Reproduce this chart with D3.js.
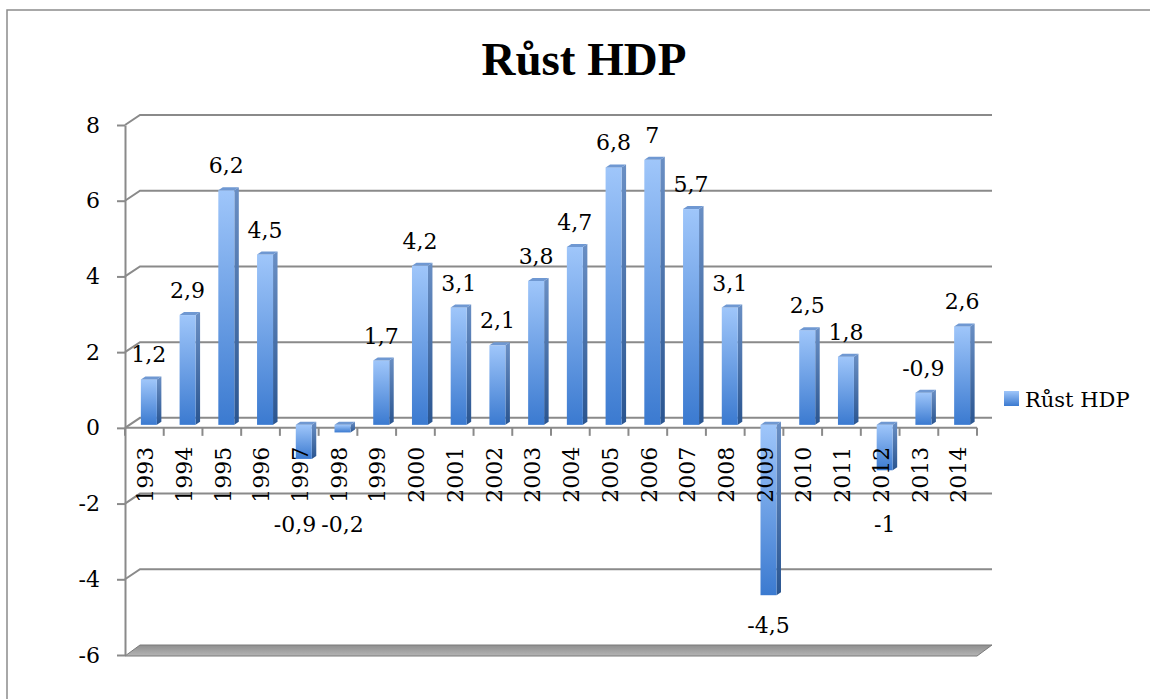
<!DOCTYPE html>
<html>
<head>
<meta charset="utf-8">
<script src="https://cdnjs.cloudflare.com/ajax/libs/d3/7.8.5/d3.min.js"></script>
<style>
  body { margin: 0; background: #fff; }
  svg { display: block; }
</style>
</head>
<body>
<svg id="chart"></svg>
<script>
var years = ["1993", "1994", "1995", "1996", "1997", "1998", "1999", "2000", "2001", "2002", "2003",
    "2004", "2005", "2006", "2007", "2008", "2009", "2010", "2011", "2012", "2013", "2014"];
var growth = [1.2, 2.9, 6.2, 4.5, -0.9, -0.2, 1.7, 4.2, 3.1, 2.1, 3.8,
    4.7, 6.8, 7, 5.7, 3.1, -4.5, 2.5, 1.8, -1.2, 0.85, 2.6];
var labels = ["1,2", "2,9", "6,2", "4,5", "-0,9", "-0,2", "1,7", "4,2", "3,1", "2,1", "3,8",
    "4,7", "6,8", "7", "5,7", "3,1", "-4,5", "2,5", "1,8", "-1", "-0,9", "2,6"];
var yTicks = [-6, -4, -2, 0, 2, 4, 6, 8];
var seriesName = "Růst HDP";
var title = "Růst HDP";

function drawChart() {
    var width = 1150;
    var height = 699;
    var plotL = 125, plotR = 977, plotT = 125, plotB = 655;
    var depthX = 15, depthY = -10;      // back wall offset
    var barX = 4.5, barY = -3;          // bar front face offset / bar depth
    var serif = "'DejaVu Serif', serif";
    var fs = 21;

    var svg = d3.select("#chart")
        .attr("width", width)
        .attr("height", height);

    var defs = svg.append("defs");

    function grad(id, stops) {
        var g = defs.append("linearGradient")
            .attr("id", id)
            .attr("x1", 0).attr("y1", 0).attr("x2", 0).attr("y2", 1);
        stops.forEach(s => g.append("stop").attr("offset", s[0]).attr("stop-color", s[1]));
    }
    grad("front", [[0, "#9fc6fa"], [1, "#3b7ad0"]]);
    grad("side", [[0, "#6a8fc4"], [1, "#2a5590"]]);
    grad("legendGrad", [[0, "#9fc6fa"], [1, "#3b7ad0"]]);
    grad("floorGrad", [[0, "#8f8f8f"], [1, "#b4b4b4"]]);

    var x = d3.scaleBand()
        .domain(years)
        .range([plotL, plotR])
        .paddingInner(0.587)
        .paddingOuter(0.2935);

    var slot = d3.scaleBand()
        .domain(years)
        .range([plotL, plotR]);

    var y = d3.scaleLinear()
        .domain([-6, 8])
        .range([plotB, plotT]);

    // chart area border
    svg.append("path")
        .attr("d", "M7," + height + "V10H" + width)
        .attr("fill", "none")
        .attr("stroke", "#8c8c8c")
        .attr("stroke-width", 1.5);

    svg.append("text")
        .attr("x", 584)
        .attr("y", 75)
        .attr("text-anchor", "middle")
        .attr("font-family", "'Liberation Serif', serif")
        .attr("font-weight", "bold")
        .attr("font-size", 47)
        .text(title);

    // back wall gridlines with the 3d side edge
    svg.append("g")
        .selectAll("path")
        .data(yTicks.filter(d => d > -6))
        .enter()
        .append("path")
        .attr("d", d => "M" + plotL + "," + y(d) + "L" + (plotL + depthX) + "," + (y(d) + depthY) +
            "H" + (plotR + depthX))
        .attr("fill", "none")
        .attr("stroke", "#8a8a8a")
        .attr("stroke-width", 2);

    // floor slab at the bottom
    svg.append("path")
        .attr("d", "M" + plotL + "," + (plotB + 1) + "L" + (plotL + depthX) + "," + (plotB + depthY) +
            "H" + (plotR + depthX) + "L" + plotR + "," + (plotB + 1) + "Z")
        .attr("fill", "url(#floorGrad)")
        .attr("stroke", "#7a7a7a")
        .attr("stroke-width", 1);

    // y axis
    var yAxis = svg.append("g")
        .attr("transform", "translate(" + plotL + ",0)")
        .call(d3.axisLeft(y).tickValues(yTicks).tickSize(8).tickSizeOuter(0).tickPadding(17)
            .tickFormat(d => String(d)));
    yAxis.select(".domain").attr("stroke", "#8a8a8a").attr("stroke-width", 2);
    yAxis.selectAll(".tick line").attr("stroke", "#8a8a8a").attr("stroke-width", 2);
    yAxis.selectAll(".tick text")
        .attr("font-family", serif)
        .attr("font-size", fs + 1)
        .attr("fill", "#000");

    // category axis at zero
    var cat = svg.append("g");
    cat.append("line")
        .attr("x1", plotL).attr("x2", plotR)
        .attr("y1", y(0)).attr("y2", y(0))
        .attr("stroke", "#8a8a8a")
        .attr("stroke-width", 2);
    cat.selectAll(".ctick")
        .data(years.concat(["end"]))
        .enter()
        .append("line")
        .attr("x1", (d, i) => plotL + i * slot.step())
        .attr("x2", (d, i) => plotL + i * slot.step())
        .attr("y1", y(0))
        .attr("y2", y(0) + 8)
        .attr("stroke", "#8a8a8a")
        .attr("stroke-width", 2);

    // bars
    var bars = years.map((d, i) => ({ year: d, value: growth[i], label: labels[i] }));
    var zeroY = y(0) + barY;

    var barG = svg.append("g")
        .selectAll("g")
        .data(bars)
        .enter()
        .append("g");

    function frontX(d) { return x(d.year) + barX; }
    function topY(d) { return Math.min(zeroY, y(d.value) + barY); }
    function botY(d) { return Math.max(zeroY, y(d.value) + barY); }

    barG.append("path")
        .attr("d", d => {
            var x1 = frontX(d) + x.bandwidth();
            return "M" + x1 + "," + topY(d) + "L" + (x1 + barX) + "," + (topY(d) + barY) +
                "L" + (x1 + barX) + "," + (botY(d) + barY) + "L" + x1 + "," + botY(d) + "Z";
        })
        .attr("fill", "url(#side)");

    barG.append("rect")
        .attr("x", frontX)
        .attr("y", topY)
        .attr("width", x.bandwidth())
        .attr("height", d => Math.max(0.5, botY(d) - topY(d)))
        .attr("fill", "url(#front)");

    barG.append("path")
        .attr("d", d => {
            var x0 = frontX(d), t = topY(d);
            return "M" + x0 + "," + t + "L" + (x0 + barX) + "," + (t + barY) +
                "H" + (x0 + x.bandwidth() + barX) + "L" + (x0 + x.bandwidth()) + "," + t + "Z";
        })
        .attr("fill", "#6f98d2");

    // category labels
    svg.append("g")
        .selectAll("text")
        .data(years)
        .enter()
        .append("text")
        .attr("transform", d => "translate(" + (slot(d) + slot.step() / 2 + 1) + "," + (y(0) + 19) + ") rotate(-90)")
        .attr("text-anchor", "end")
        .attr("dy", "0.35em")
        .attr("font-family", serif)
        .attr("font-size", fs + 1)
        .text(d => d);

    // data labels (negative ones sit under the category labels)
    var dl = svg.append("g")
        .selectAll("text")
        .data(bars)
        .enter()
        .append("text")
        .attr("x", d => frontX(d) + x.bandwidth() / 2)
        .attr("y", d => d.value >= 0 ? topY(d) - 17 : Math.max(botY(d) + 38, 532))
        .attr("text-anchor", "middle")
        .attr("font-family", serif)
        .attr("font-size", fs + 1)
        .text(d => d.label);

    // push colliding labels on the same row apart
    var nodes = dl.nodes();
    for (var i = nodes.length - 2; i >= 0; i--) {
        var a = nodes[i], b = nodes[i + 1];
        if (+a.getAttribute("y") !== +b.getAttribute("y")) continue;
        var aw = a.getComputedTextLength(), bw = b.getComputedTextLength();
        var gap = (+b.getAttribute("x") - bw / 2) - (+a.getAttribute("x") + aw / 2);
        if (gap < 5) a.setAttribute("x", +a.getAttribute("x") - (5 - gap));
    }

    // legend
    var legend = svg.append("g").attr("transform", "translate(1004,391)");
    legend.append("rect")
        .attr("width", 15)
        .attr("height", 15)
        .attr("fill", "url(#legendGrad)");
    legend.append("text")
        .attr("x", 21)
        .attr("y", 16)
        .attr("font-family", serif)
        .attr("font-size", fs)
        .text(seriesName);
}

drawChart();
</script>
</body>
</html>
